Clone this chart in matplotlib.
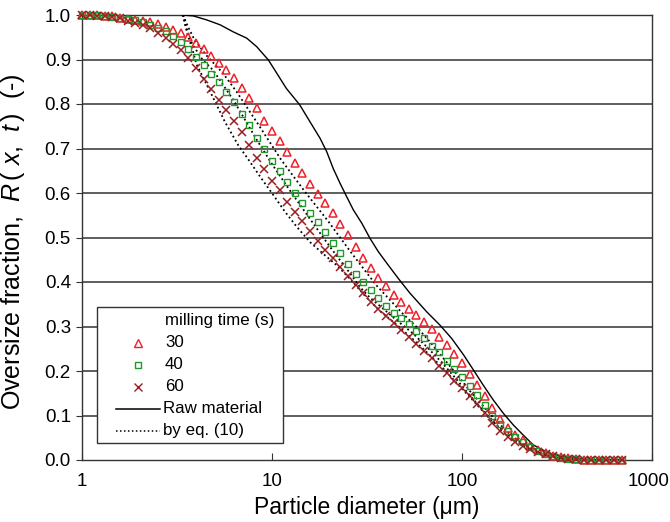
import matplotlib
matplotlib.use("Agg")
import matplotlib.pyplot as plt
import matplotlib.transforms as mtransforms
from matplotlib.lines import Line2D
from matplotlib.patches import Rectangle

plt.rcParams["font.family"] = ["Liberation Sans", "DejaVu Sans"]
plt.rcParams["mathtext.fontset"] = "custom"
plt.rcParams["mathtext.rm"] = "Liberation Sans"
plt.rcParams["mathtext.it"] = "Liberation Sans:italic"

# Sieve diameters of the measured size classes (um)
diameter = [
    1.000, 1.096, 1.202, 1.318, 1.445, 1.585, 1.738, 1.905, 2.089, 2.291,
    2.512, 2.754, 3.020, 3.311, 3.631, 3.981, 4.365, 4.786, 5.248, 5.754,
    6.310, 6.918, 7.586, 8.318, 9.120, 10.00, 10.96, 12.02, 13.18, 14.45,
    15.85, 17.38, 19.05, 20.89, 22.91, 25.12, 27.54, 30.20, 33.11, 36.31,
    39.81, 43.65, 47.86, 52.48, 57.54, 63.10, 69.18, 75.86, 83.18, 91.20,
    100.0, 109.6, 120.2, 131.8, 144.5, 158.5, 173.8, 190.5, 208.9, 229.1,
    251.2, 275.4, 302.0, 331.1, 363.1, 398.1, 436.5, 478.6, 524.8, 575.4,
    631.0, 691.8,
]

# Oversize fraction after 30 s of milling
r_30s = [
    1.000, 1.000, 0.999, 0.998, 0.997, 0.994, 0.991, 0.989, 0.987, 0.984,
    0.979, 0.974, 0.967, 0.960, 0.950, 0.937, 0.924, 0.908, 0.893, 0.876,
    0.858, 0.836, 0.813, 0.790, 0.762, 0.740, 0.716, 0.693, 0.668, 0.645,
    0.620, 0.598, 0.578, 0.555, 0.531, 0.505, 0.478, 0.453, 0.432, 0.410,
    0.390, 0.370, 0.355, 0.340, 0.326, 0.311, 0.294, 0.276, 0.258, 0.238,
    0.217, 0.193, 0.168, 0.144, 0.117, 0.093, 0.071, 0.056, 0.044, 0.032,
    0.022, 0.015, 0.009, 0.006, 0.004, 0.003, 0.001, 0.000, 0.000, 0.000,
    0.000, 0.000,
]

# Oversize fraction after 40 s of milling
r_40s = [
    1.000, 1.000, 0.999, 0.998, 0.996, 0.993, 0.990, 0.988, 0.984, 0.978,
    0.971, 0.964, 0.953, 0.939, 0.924, 0.905, 0.887, 0.868, 0.849, 0.827,
    0.804, 0.777, 0.752, 0.723, 0.698, 0.673, 0.650, 0.624, 0.600, 0.577,
    0.556, 0.534, 0.513, 0.488, 0.465, 0.440, 0.418, 0.400, 0.382, 0.363,
    0.347, 0.331, 0.318, 0.305, 0.290, 0.274, 0.257, 0.242, 0.223, 0.205,
    0.186, 0.166, 0.145, 0.124, 0.099, 0.081, 0.065, 0.052, 0.040, 0.029,
    0.021, 0.014, 0.008, 0.005, 0.003, 0.002, 0.001, 0.000, 0.000, 0.000,
    0.000, 0.000,
]

# Oversize fraction after 60 s of milling
r_60s = [
    1.000, 0.999, 0.998, 0.997, 0.996, 0.993, 0.987, 0.982, 0.977, 0.971,
    0.960, 0.949, 0.935, 0.922, 0.904, 0.880, 0.856, 0.833, 0.810, 0.787,
    0.762, 0.737, 0.707, 0.678, 0.654, 0.628, 0.606, 0.580, 0.558, 0.536,
    0.515, 0.492, 0.472, 0.453, 0.433, 0.414, 0.394, 0.375, 0.355, 0.339,
    0.324, 0.308, 0.292, 0.276, 0.260, 0.245, 0.229, 0.212, 0.195, 0.178,
    0.161, 0.143, 0.125, 0.106, 0.083, 0.066, 0.052, 0.041, 0.031, 0.024,
    0.019, 0.013, 0.009, 0.005, 0.003, 0.002, 0.001, 0.000, 0.000, 0.000,
    0.000, 0.000,
]

# Raw (unmilled) material
raw_d = [3.35, 3.85, 4.53, 5.33, 6.26, 7.36, 8.3, 9.57, 10.6, 11.9, 14.0,
         15.85, 17.9, 19.4, 21.0, 22.8, 24.7, 26.8, 29.7, 32.8, 36.3, 40.9,
         46.2, 53.2, 65.2, 76.6, 88.3, 102, 115, 129, 146, 165, 186, 210,
         237, 262, 290, 328, 385, 450, 700]
raw_r = [1.000, 0.998, 0.989, 0.978, 0.962, 0.948, 0.929, 0.899, 0.869,
         0.835, 0.798, 0.760, 0.723, 0.693, 0.655, 0.622, 0.592, 0.562,
         0.532, 0.498, 0.468, 0.438, 0.408, 0.375, 0.333, 0.303, 0.273,
         0.236, 0.202, 0.169, 0.135, 0.105, 0.079, 0.056, 0.034, 0.024,
         0.015, 0.009, 0.006, 0.000, 0.000]

# Predictions of eq. (10) for 30, 40 and 60 s
eq30_d = [3.4, 3.6, 3.9, 4.5, 5.5, 6.5, 8.5, 11.2, 14.9, 19.8, 25.9, 30.2,
          35.5, 41.7, 49, 58, 68, 80, 95, 110, 130, 150, 175, 210, 260, 330,
          420, 700]
eq30_r = [1.0, 0.975, 0.945, 0.91, 0.87, 0.828, 0.753, 0.674, 0.603, 0.536,
          0.468, 0.431, 0.392, 0.36, 0.328, 0.298, 0.265, 0.228, 0.19, 0.155,
          0.12, 0.09, 0.062, 0.035, 0.015, 0.004, 0.0, 0.0]

eq40_d = [3.4, 3.55, 3.8, 4.3, 4.9, 6.26, 8.3, 10, 12, 14.5, 17.9, 20.2,
          22.8, 25.7, 29, 32.7, 38.5, 45, 55, 65, 78, 92, 110, 130, 155, 185,
          220, 270, 340, 420, 700]
eq40_r = [1.0, 0.97, 0.935, 0.9, 0.876, 0.809, 0.72, 0.665, 0.615, 0.565,
          0.51, 0.479, 0.449, 0.42, 0.389, 0.365, 0.34, 0.315, 0.285, 0.255,
          0.22, 0.185, 0.145, 0.11, 0.075, 0.048, 0.027, 0.011, 0.003, 0.0,
          0.0]

eq60_d = [3.4, 3.5, 3.6, 3.8, 4.0, 4.7, 5.65, 6.63, 7.66, 8.65, 10.14, 11.7,
          13.5, 16, 19, 22, 26, 31, 37, 45, 55, 66, 80, 96, 112, 135, 160,
          190, 230, 280, 350, 420, 700]
eq60_r = [1.0, 0.975, 0.955, 0.925, 0.89, 0.83, 0.76, 0.708, 0.67, 0.637,
          0.596, 0.558, 0.524, 0.488, 0.46, 0.437, 0.405, 0.368, 0.335, 0.305,
          0.272, 0.24, 0.205, 0.168, 0.138, 0.1, 0.068, 0.042, 0.022, 0.009,
          0.002, 0.0, 0.0]

x_ticks = [1, 10, 100, 1000]
x_tick_labels = ["1", "10", "100", "1000"]
y_ticks = [0.0, 0.1, 0.2, 0.3, 0.4, 0.5, 0.6, 0.7, 0.8, 0.9, 1.0]

legend_title = "milling time (s)"
legend_times = ["30", "40", "60"]
legend_lines = ["Raw material", "by eq. (10)"]

c_30 = "#ee2028"
c_40 = "#1f9a2a"
c_60 = "#9a1f22"
edge = "#333333"
dot = (0, (1.0, 1.6))

W, H = 670, 522
fig = plt.figure(figsize=(W / 100, H / 100), dpi=100)
ax = fig.add_axes([82 / W, 1 - 460 / H, (652 - 82) / W, (460 - 15) / H])

ax.set_xscale("log")
ax.set_xlim(1, 1000)
ax.set_ylim(0, 1.0)

for y in y_ticks[1:]:
    ax.axhline(y, color=edge, lw=1.1, zorder=1)

ax.plot(eq30_d, eq30_r, color="black", lw=1.3, ls=dot, zorder=3)
ax.plot(eq40_d, eq40_r, color="black", lw=1.3, ls=dot, zorder=3)
ax.plot(eq60_d, eq60_r, color="black", lw=1.3, ls=dot, zorder=3)
ax.plot(raw_d, raw_r, color="black", lw=1.0, zorder=3)

ax.plot(diameter, r_30s, ls="none", marker="^", ms=6.3, mfc="none", mec=c_30,
        mew=1.1, zorder=4, clip_on=False)
ax.plot(diameter, r_40s, ls="none", marker="s", ms=5, mfc="none", mec=c_40,
        mew=1.0, zorder=4, clip_on=False)
ax.plot(diameter, r_60s, ls="none", marker="x", ms=6, mec=c_60,
        mew=1.1, zorder=4, clip_on=False)

ax.set_xticks(x_ticks)
ax.set_xticklabels(x_tick_labels)
ax.xaxis.set_minor_locator(matplotlib.ticker.NullLocator())
ax.set_yticks(y_ticks)
ax.set_yticklabels([f"{v:.1f}" for v in y_ticks])
ax.tick_params(axis="x", direction="in", length=5, labelsize=13.5, pad=9,
               color=edge)
ax.tick_params(axis="y", direction="out", length=4, labelsize=13.5, pad=4,
               color=edge)
# keep the last decade label inside the canvas
last = ax.get_xticklabels()[-1]
last.set_transform(last.get_transform() +
                   mtransforms.ScaledTranslation(-3 / 100, 0, fig.dpi_scale_trans))
for s in ax.spines.values():
    s.set_color(edge)
    s.set_linewidth(1.0)

ax.set_xlabel("Particle diameter (μm)", fontsize=16.5, labelpad=5)
ax.set_ylabel(r"Oversize fraction,  $R\,$( $x$,  $t\,$)  (-)", fontsize=18)
ax.yaxis.set_label_coords(-0.097, 0.49)

# legend box drawn in pixel positions of the figure
def fx(px):
    return px / W


def fy(py):
    return 1 - py / H


fig.add_artist(Rectangle((fx(97), fy(443)), fx(283) - fx(97), fy(307) - fy(443),
                         transform=fig.transFigure, facecolor="white",
                         edgecolor=edge, lw=1.0, zorder=5))
rows = [320.7, 342.7, 364.5, 386.5, 408.5, 430.5]
text_x = 165
fs_leg = 12.2
fig.text(fx(text_x), fy(rows[0]), legend_title, fontsize=fs_leg, va="center",
         ha="left", zorder=6)
styles = [
    dict(marker="^", ms=5.5, mfc="none", mec=c_30, mew=1.0),
    dict(marker="s", ms=4.5, mfc="none", mec=c_40, mew=1.0),
    dict(marker="x", ms=5.5, mec=c_60, mew=1.0),
]
for lab, row, st in zip(legend_times, rows[1:4], styles):
    fig.add_artist(Line2D([fx(138)], [fy(row)], transform=fig.transFigure,
                          ls="none", zorder=6, **st))
    fig.text(fx(text_x), fy(row), lab, fontsize=fs_leg, va="center",
             ha="left", zorder=6)
for lab, row, ls in zip(legend_lines, rows[4:], ["-", dot]):
    fig.add_artist(Line2D([fx(116), fx(160)], [fy(row), fy(row)],
                          transform=fig.transFigure, color="black", lw=1.1,
                          ls=ls, zorder=6))
    fig.text(fx(text_x - 2), fy(row), lab, fontsize=fs_leg, va="center",
             ha="left", zorder=6)

fig.savefig("out.png", dpi=100)
